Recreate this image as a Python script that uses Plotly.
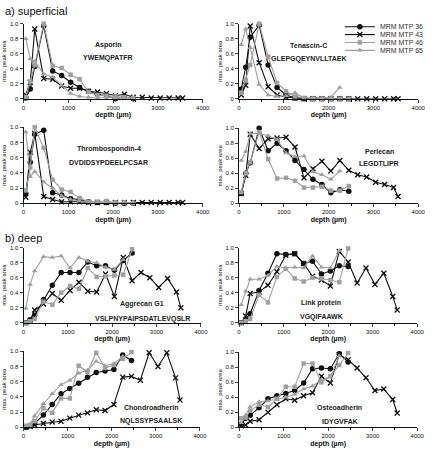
import plotly.graph_objects as go

depth = [50, 150, 250, 450, 650, 850, 1050, 1250, 1450, 1650, 1850, 2050, 2250, 2450,
         2650, 2850, 3050, 3250, 3450, 3550]

series_names = ["MRM MTP 36", "MRM MTP 43", "MRM MTP 46", "MRM MTP 65"]

proteins = ["Asporin", "Tenascin-C", "Thrombospondin-4", "Perlecan",
            "Aggrecan G1", "Link protein", "Chondroadherin", "Osteoadherin"]
peptides = ["YWEMQPATFR", "GLEPGQEYNVLLTAEK", "DVDIDSYPDEELPCSAR", "LEGDTLIPR",
            "VSLPNYPAIPSDATLEVQSLR", "VGQIFAAWK", "NQLSSYPSAALSK", "IDYGVFAK"]

# values per panel: [MTP36, MTP43, MTP46, MTP65]
asporin = [
    [0.01, 0.13, 0.43, 0.97, 0.37, 0.31, 0.22, 0.15, 0.10, 0.06, 0.04, 0.00, 0.02, 0.00],
    [0.05, 0.22, 0.93, 0.27, 0.26, 0.17, 0.14, 0.14, 0.10, 0.09, 0.07, 0.04, 0.06, 0.02, 0.02, 0.01, 0.01, 0.01, 0.01, 0.01],
    [0.02, 0.23, 0.45, 1.00, 0.44, 0.41, 0.32, 0.26, 0.09, 0.05, 0.04, 0.03, 0.02, 0.01],
    [0.80, 0.53, 0.50, 0.33, 0.29, 0.18, 0.07, 0.03, 0.02, 0.01, 0.02, 0.01, 0.02, 0.01],
]
tenascin = [
    [0.13, 0.42, 0.82, 0.98, 0.45, 0.15, 0.05, 0.01, 0.00, 0.00, 0.00, 0.00, 0.00, 0.00],
    [0.05, 0.18, 0.97, 0.48, 0.16, 0.05, 0.02, 0.01, 0.00, 0.00, 0.00, 0.00, 0.00, 0.00, 0.00, 0.00, 0.00, 0.00, 0.00, 0.00],
    [0.08, 0.25, 0.45, 1.00, 0.56, 0.21, 0.10, 0.03, 0.01, 0.00, 0.00, 0.00, 0.00, 0.00],
    [0.72, 0.93, 0.68, 0.19, 0.05, 0.03, 0.04, 0.08, 0.01, 0.01, 0.01, 0.02, 0.15],
]
thrombospondin = [
    [0.13, 0.54, 0.91, 0.96, 0.14, 0.11, 0.06, 0.05, 0.02, 0.01, 0.01, 0.00, 0.00, 0.00],
    [0.08, 0.67, 0.92, 0.09, 0.05, 0.02, 0.02, 0.02, 0.01, 0.01, 0.01, 0.01, 0.01, 0.01, 0.01, 0.01, 0.01, 0.01, 0.01, 0.01],
    [0.17, 0.47, 1.00, 0.73, 0.31, 0.18, 0.15, 0.07, 0.02, 0.02, 0.03, 0.01, 0.01, 0.00],
    [0.94, 0.35, 0.42, 0.28, 0.20, 0.10, 0.05, 0.03, 0.01, 0.01, 0.01, 0.01, 0.01, 0.01],
]
perlecan = [
    [0.13, 0.40, 0.54, 1.00, 0.70, 0.80, 0.70, 0.57, 0.45, 0.32, 0.25, 0.14, 0.18, 0.16],
    [0.13, 0.37, 0.92, 0.73, 0.86, 0.87, 0.88, 0.75, 0.34, 0.46, 0.56, 0.43, 0.57, 0.44, 0.38, 0.35, 0.28, 0.25, 0.21, 0.09],
    [0.15, 0.40, 0.55, 0.95, 0.59, 0.33, 0.34, 0.30, 0.21, 0.21, 0.22, 0.17, 0.17, 0.23],
    [0.57, 0.69, 0.93, 0.93, 0.90, 0.85, 0.67, 0.62, 0.63, 0.42, 0.38, 0.32, 0.43],
]
aggrecan = [
    [0.00, 0.04, 0.10, 0.31, 0.50, 0.67, 0.67, 0.67, 0.81, 0.76, 0.76, 0.70, 0.83, 0.93],
    [0.00, 0.03, 0.17, 0.25, 0.39, 0.30, 0.43, 0.54, 0.42, 0.41, 0.65, 0.35, 0.87, 0.56, 0.67, 0.60, 0.47, 0.59, 0.41, 0.20],
    [0.00, 0.02, 0.05, 0.28, 0.24, 0.40, 0.49, 0.45, 0.73, 0.61, 0.62, 0.63, 0.64, 0.98],
    [0.19, 0.51, 0.69, 0.88, 0.87, 0.89, 0.73, 0.87, 0.82, 0.80, 0.74, 0.71, 0.84],
]
link = [
    [0.00, 0.04, 0.12, 0.43, 0.66, 0.92, 0.91, 0.92, 0.79, 0.82, 0.65, 0.69, 0.76, 0.75],
    [0.00, 0.09, 0.39, 0.41, 0.50, 0.68, 0.90, 0.92, 0.79, 0.62, 0.57, 0.49, 0.95, 0.81, 0.53, 0.73, 0.51, 0.66, 0.35, 0.17],
    [0.00, 0.02, 0.05, 0.37, 0.27, 0.61, 0.72, 0.59, 0.55, 0.60, 0.59, 0.57, 0.54, 0.99],
    [0.24, 0.42, 0.58, 0.58, 0.63, 0.75, 0.73, 0.74, 0.73, 0.89, 0.74, 0.73, 0.96],
]
chondroadherin = [
    [0.00, 0.02, 0.05, 0.16, 0.30, 0.44, 0.51, 0.58, 0.66, 0.72, 0.74, 0.76, 0.95, 0.88],
    [0.00, 0.01, 0.03, 0.05, 0.07, 0.08, 0.12, 0.16, 0.19, 0.23, 0.22, 0.30, 0.66, 0.67, 0.62, 0.98, 0.80, 0.98, 0.65, 0.36],
    [0.02, 0.03, 0.08, 0.25, 0.19, 0.38, 0.38, 0.81, 0.73, 0.98, 0.78, 0.82, 0.90, 0.99],
    [0.01, 0.04, 0.15, 0.31, 0.44, 0.56, 0.62, 0.71, 0.75, 0.87, 0.81, 0.84, 0.93],
]
osteoadherin = [
    [0.04, 0.12, 0.16, 0.26, 0.38, 0.42, 0.45, 0.49, 0.59, 0.78, 0.79, 0.78, 0.98, 0.87],
    [0.02, 0.03, 0.08, 0.10, 0.20, 0.30, 0.38, 0.36, 0.42, 0.46, 0.68, 0.59, 0.97, 0.90, 0.79, 0.66, 0.49, 0.51, 0.37, 0.19],
    [0.12, 0.13, 0.22, 0.30, 0.27, 0.38, 0.54, 0.54, 0.85, 0.85, 0.60, 0.68, 0.83, 0.99],
    [0.06, 0.16, 0.27, 0.34, 0.35, 0.37, 0.40, 0.44, 0.51, 0.55, 0.63, 0.67, 0.95],
]
panels = [asporin, tenascin, thrombospondin, perlecan, aggrecan, link, chondroadherin, osteoadherin]

x_ticks = [0, 1000, 2000, 3000, 4000]
y_ticks = [0, 0.2, 0.4, 0.6, 0.8, 1.0]
y_tick_text = ["0", "0.2", "0.4", "0.6", "0.8", "1.0"]

W, H = 436, 451
BLACK = "#111111"
GRAY = "#a0a0a0"
FONT = "Liberation Sans, Arial, sans-serif"

styles = [
    dict(color=BLACK, marker=dict(symbol="circle", size=5.5, color=BLACK)),
    dict(color=BLACK, marker=dict(symbol="x-thin", size=5, color=BLACK, line=dict(color=BLACK, width=1.3))),
    dict(color=GRAY, marker=dict(symbol="square", size=4.5, color=GRAY)),
    dict(color=GRAY, marker=dict(symbol="triangle-up", size=5, color=GRAY)),
]

# pixel frames: (left, right, top, bottom)
frames = [
    (22, 205, 21, 97), (242, 425, 21, 97),
    (22, 205, 126, 203), (242, 425, 127, 203),
    (22, 203, 248, 324), (242, 424, 248, 324),
    (22, 202, 353, 430), (242, 424, 354, 430),
]
text_pos = [
    (108, 43, 56), (313, 43, 57),
    (109, 148, 162), (385, 150, 163),
    (143, 305, 320), (326, 304, 318),
    (152, 410, 424), (345, 410, 424),
]

fig = go.Figure()
layout = dict(
    width=W, height=H, margin=dict(l=0, r=0, t=0, b=0),
    paper_bgcolor="white", plot_bgcolor="white",
    font=dict(family=FONT, size=7, color=BLACK),
    showlegend=True,
)
annotations = []

for i, (panel, fr) in enumerate(zip(panels, frames)):
    k = "" if i == 0 else str(i + 1)
    l, r, t, b = fr
    for j, vals in enumerate(panel):
        st = styles[j]
        fig.add_trace(go.Scatter(
            x=depth[:len(vals)], y=vals, mode="lines+markers",
            name=series_names[j],
            line=dict(color=st["color"], width=1.1),
            marker=st["marker"],
            xaxis="x" + k, yaxis="y" + k,
            showlegend=(i == 1),
            legend="legend" if j == 0 else "legend" + str(j + 1),
            cliponaxis=False,
        ))
    layout["xaxis" + k] = dict(
        domain=[l / W, r / W], anchor="y" + k, range=[0, 4000],
        tickvals=x_ticks, ticks="outside", ticklen=3, tickwidth=1,
        showline=True, linecolor=BLACK, linewidth=1, showgrid=False, zeroline=False,
        tickfont=dict(size=6, family=FONT, color=BLACK),
        minor=dict(dtick=500, ticks="outside", ticklen=2, tickcolor=BLACK),
        title=dict(text="<b>depth (µm)</b>", font=dict(size=7, family=FONT, color=BLACK), standoff=2),
    )
    layout["yaxis" + k] = dict(
        domain=[1 - b / H, 1 - t / H], anchor="x" + k, range=[0, 1],
        tickvals=y_ticks, ticktext=y_tick_text, ticks="outside", ticklen=3, tickwidth=1,
        showline=True, linecolor=BLACK, linewidth=1, showgrid=False, zeroline=False,
        tickfont=dict(size=6, family=FONT, color=BLACK),
        title=dict(text="max. peak area", font=dict(size=6, family=FONT, color=BLACK), standoff=2),
    )
    cx, y1, y2 = text_pos[i]
    annotations.append(dict(text="<b>%s</b>" % proteins[i], x=cx / W, y=1 - y1 / H,
                            xref="paper", yref="paper", showarrow=False,
                            font=dict(size=7, family=FONT, color="#222222"),
                            xanchor="center", yanchor="middle"))
    annotations.append(dict(text="<b>%s</b>" % peptides[i], x=cx / W, y=1 - y2 / H,
                            xref="paper", yref="paper", showarrow=False,
                            font=dict(size=7, family=FONT, color="#222222"),
                            xanchor="center", yanchor="middle"))

annotations.append(dict(text="a) superficial", x=1 / W, y=1 - 8 / H, xref="paper", yref="paper",
                        showarrow=False, xanchor="left", yanchor="middle",
                        font=dict(size=11, family=FONT, color=BLACK)))
annotations.append(dict(text="b) deep", x=1 / W, y=1 - 238 / H, xref="paper", yref="paper",
                        showarrow=False, xanchor="left", yanchor="middle",
                        font=dict(size=11, family=FONT, color=BLACK)))
layout["annotations"] = annotations

leg_y = [24, 32, 40, 48]
for j in range(4):
    key = "legend" if j == 0 else "legend" + str(j + 1)
    layout[key] = dict(x=345 / W, y=1 - leg_y[j] / H, xanchor="left", yanchor="middle",
                       bgcolor="rgba(0,0,0,0)", borderwidth=0,
                       font=dict(size=7, family=FONT, color="#333333"),
                       itemwidth=30, tracegroupgap=0)

fig.update_layout(**layout)
fig.write_html("out.html")
